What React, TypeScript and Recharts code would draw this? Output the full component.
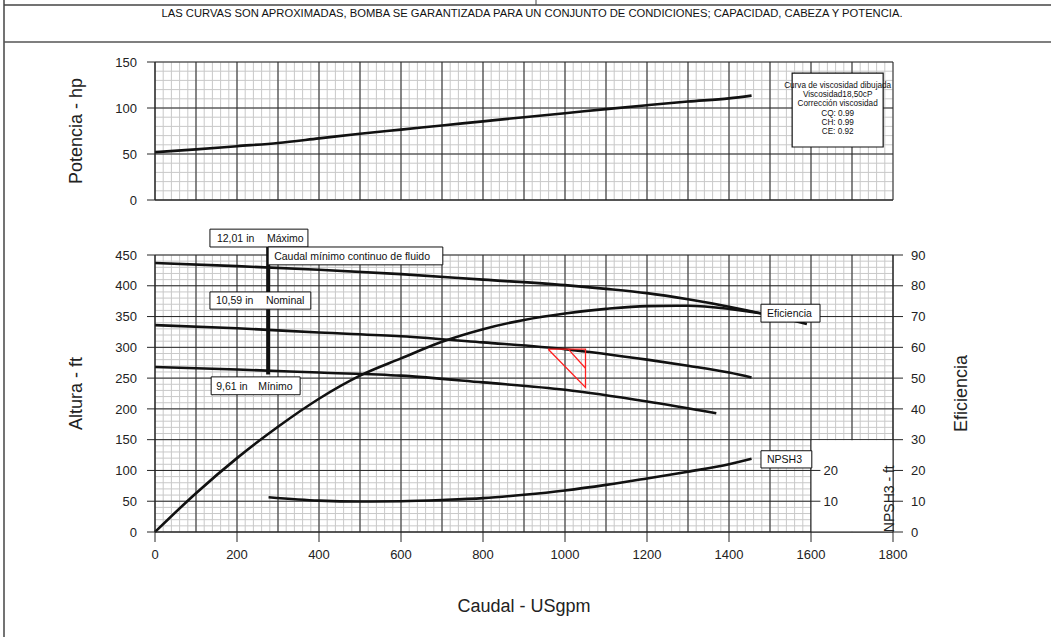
import React from 'react';
import {
  LineChart,
  ComposedChart,
  Line,
  XAxis,
  YAxis,
  CartesianGrid,
  ReferenceArea,
  ReferenceLine,
} from 'recharts';

const FONT = '"Liberation Sans", Arial, Helvetica, sans-serif';

// ---------- texts ----------
const headerText =
  'LAS CURVAS SON APROXIMADAS, BOMBA SE GARANTIZADA PARA UN CONJUNTO DE CONDICIONES; CAPACIDAD, CABEZA Y POTENCIA.';
const viscLines = [
  'Curva de viscosidad dibujada',
  'Viscosidad18,50cP',
  'Corrección viscosidad',
  'CQ: 0.99',
  'CH: 0.99',
  'CE: 0.92',
];

// ---------- ticks ----------
const flowTicks = [0, 200, 400, 600, 800, 1000, 1200, 1400, 1600, 1800];
const powerTicks = [0, 50, 100, 150];
const headTicks = [0, 50, 100, 150, 200, 250, 300, 350, 400, 450];
const effTicks = [0, 10, 20, 30, 40, 50, 60, 70, 80, 90];
const npshTicks = [10, 20];

// grid line values (graph paper)
const majorFlow = Array.from({ length: 19 }, (_, i) => i * 100);
const minorFlow = Array.from({ length: 91 }, (_, i) => i * 20);
const minorPower = Array.from({ length: 16 }, (_, i) => i * 10);
const minorHead = Array.from({ length: 46 }, (_, i) => i * 10);

// ---------- series ----------
// Potencia (hp)
const powerFlow = [0, 100, 200, 300, 400, 500, 600, 700, 800, 900, 1000, 1100, 1200, 1300, 1400, 1455];
const powerHp = [52, 55, 58.5, 62, 67, 72, 76.5, 81, 85.5, 90, 94.3, 98.8, 103, 107, 110.5, 113.5];

// Altura (ft) - 12,01 in Máximo
const maxFlow = [0, 200, 400, 600, 800, 1000, 1100, 1200, 1300, 1400, 1500, 1590];
const maxHead = [437, 432, 426, 419, 410, 401, 395, 388, 378, 366, 352, 338];

// Altura (ft) - 10,59 in Nominal
const nomFlow = [0, 200, 400, 600, 800, 1000, 1200, 1300, 1400, 1455];
const nomHead = [336, 331, 324, 318, 308, 297, 280, 270, 259, 251];

// Altura (ft) - 9,61 in Mínimo
const minFlow = [0, 200, 400, 600, 800, 1000, 1200, 1369];
const minHead = [268, 264, 259, 254, 243, 231, 212, 193];

// Eficiencia (%)
const effFlow = [0, 100, 200, 300, 400, 500, 600, 700, 800, 900, 1000, 1100, 1200, 1300, 1400, 1480];
const effVal = [0, 12.6, 24, 34.2, 43.3, 50.8, 56.4, 61.8, 65.9, 68.9, 71, 72.5, 73.4, 73.5, 72.5, 71];

// NPSH3 (ft)
const npshFlow = [277, 400, 500, 600, 700, 800, 900, 1000, 1100, 1200, 1300, 1400, 1455];
const npshVal = [11.3, 10.2, 9.9, 10, 10.4, 11, 12.1, 13.5, 15.3, 17.4, 19.6, 22, 23.8];

// Triángulos de tolerancia (punto de servicio)
const tolOuterFlow = [959, 1050, 1050, 959];
const tolOuterHead = [297, 297, 235, 297];
const tolInnerFlow = [1008, 1050];
const tolInnerHead = [297, 266];

// Caudal mínimo continuo
const minContFlow = 276;
const minContHeadTop = 463;
const minContHeadBottom = 256;

const pts = (xs: number[], ys: number[]) => xs.map((x, i) => ({ x, y: ys[i] }));

const powerPts = pts(powerFlow, powerHp);
const maxPts = pts(maxFlow, maxHead);
const nomPts = pts(nomFlow, nomHead);
const minPts = pts(minFlow, minHead);
const effPts = pts(effFlow, effVal);
const npshPts = pts(npshFlow, npshVal);
const tolOuterPts = pts(tolOuterFlow, tolOuterHead);
const tolInnerPts = pts(tolInnerFlow, tolInnerHead);

// ---------- grid generators (map values through the axis scales) ----------
const vGen = (values: number[], xMax: number) => (args: any) => {
  const sc = args?.xAxis?.scale;
  if (typeof sc === 'function') return values.map((v) => sc(v));
  const o = args.offset;
  return values.map((v) => o.left + (v / xMax) * o.width);
};
const hGen = (values: number[], yMax: number) => (args: any) => {
  const sc = args?.yAxis?.scale;
  if (typeof sc === 'function') return values.map((v) => sc(v));
  const o = args.offset;
  return values.map((v) => o.top + o.height * (1 - v / yMax));
};

// ---------- label renderers ----------
function makeBoxLabel(parts: string[], offsets: number[], fontSize = 10.5) {
  return (props: any) => {
    const vb = props.viewBox || { x: 0, y: 0, width: 0, height: 0 };
    const cy = vb.y + vb.height / 2;
    return (
      <text y={cy} dy="0.36em" fontSize={fontSize} fontFamily={FONT} fill="#111">
        {parts.map((p, i) => (
          <tspan key={i} x={vb.x + offsets[i]}>
            {p}
          </tspan>
        ))}
      </text>
    );
  };
}

const viscLabel = (props: any) => {
  const vb = props.viewBox || { x: 0, y: 0, width: 0, height: 0 };
  const cx = vb.x + vb.width / 2;
  return (
    <text textAnchor="middle" fontSize={8.2} fontFamily={FONT} fill="#111">
      {viscLines.map((l, i) => (
        <tspan key={i} x={cx} y={vb.y + 15 + i * 9.2}>
          {l}
        </tspan>
      ))}
    </text>
  );
};

const npshTitle = (props: any) => {
  const vb = props.viewBox || { x: 0, y: 0, width: 0, height: 0 };
  const x = vb.x + vb.width - 4;
  const y = vb.y + vb.height - 33;
  return (
    <text
      x={x}
      y={y}
      textAnchor="middle"
      dominantBaseline="central"
      transform={`rotate(-90, ${x}, ${y})`}
      fontSize={14}
      fontFamily={FONT}
      fill="#222"
    >
      NPSH3 - ft
    </text>
  );
};

const tickStyle = { fill: '#222', fontSize: 13, fontFamily: FONT };
const titleStyle = { fontSize: 18, fill: '#222', fontFamily: FONT };
const CURVE = '#111';
const CURVE_W = 2.6;
const MINOR = '#c9c9c9';
const MAJOR = '#262626';

export default function App() {
  return (
    <div
      style={{
        position: 'absolute',
        left: 0,
        top: 0,
        width: 1051,
        height: 637,
        background: '#fff',
        fontFamily: FONT,
        overflow: 'hidden',
      }}
    >
      {/* page frame & header */}
      <svg width={1051} height={637} style={{ position: 'absolute', left: 0, top: 0 }}>
        <line x1={4} y1={0} x2={4} y2={637} stroke="#444" strokeWidth={1.5} />
        <line x1={4} y1={5} x2={1051} y2={5} stroke="#444" strokeWidth={1.5} />
        <line x1={4} y1={42} x2={1051} y2={42} stroke="#555" strokeWidth={1.5} />
        <line x1={536} y1={0} x2={536} y2={5} stroke="#444" strokeWidth={1} />
        <text
          x={532}
          y={17}
          textAnchor="middle"
          fontSize={10}
          fontFamily={FONT}
          fill="#111"
          textLength={741}
          lengthAdjust="spacingAndGlyphs"
        >
          {headerText}
        </text>
      </svg>

      {/* Potencia chart */}
      <div style={{ position: 'absolute', left: 0, top: 0 }}>
        <LineChart width={1051} height={215} margin={{ top: 62, right: 158, bottom: 5, left: 0 }}>
          <CartesianGrid
            stroke={MINOR}
            strokeWidth={1}
            verticalCoordinatesGenerator={vGen(minorFlow, 1800)}
            horizontalCoordinatesGenerator={hGen(minorPower, 150)}
          />
          <CartesianGrid
            stroke={MAJOR}
            strokeWidth={1}
            verticalCoordinatesGenerator={vGen(majorFlow, 1800)}
            horizontalCoordinatesGenerator={hGen(powerTicks, 150)}
          />
          <Line
            data={powerPts}
            dataKey="y"
            type="monotone"
            stroke={CURVE}
            strokeWidth={CURVE_W}
            dot={false}
            activeDot={false}
            isAnimationActive={false}
          />
          <ReferenceArea
            x1={1554}
            x2={1776}
            y1={57.6}
            y2={138}
            fill="#fff"
            fillOpacity={1}
            stroke="#111"
            strokeWidth={1.2}
            ifOverflow="visible"
            zIndex={1500}
            label={viscLabel}
          />
          <XAxis
            type="number"
            dataKey="x"
            domain={[0, 1800]}
            ticks={flowTicks}
            tick={false}
            tickSize={10}
            height={10}
            stroke={MAJOR}
          />
          <YAxis
            type="number"
            domain={[0, 150]}
            ticks={powerTicks}
            width={155}
            tickSize={8}
            tickMargin={10}
            stroke={MAJOR}
            tick={tickStyle}
            label={{ value: 'Potencia - hp', angle: -90, position: 'center', dx: -2, ...titleStyle }}
          />
        </LineChart>
      </div>

      {/* Altura / Eficiencia / NPSH chart */}
      <div style={{ position: 'absolute', left: 0, top: 225 }}>
        <ComposedChart width={1051} height={412} margin={{ top: 30, right: 22, bottom: 15, left: 0 }}>
          <CartesianGrid
            stroke={MINOR}
            strokeWidth={1}
            verticalCoordinatesGenerator={vGen(minorFlow, 1800)}
            horizontalCoordinatesGenerator={hGen(minorHead, 450)}
          />
          <CartesianGrid
            stroke={MAJOR}
            strokeWidth={1}
            verticalCoordinatesGenerator={vGen(majorFlow, 1800)}
            horizontalCoordinatesGenerator={hGen(headTicks, 450)}
          />
          <ReferenceArea
            x1={1600}
            x2={1800}
            y1={0.5}
            y2={149}
            fill="#fff"
            fillOpacity={1}
            stroke="none"
            ifOverflow="visible"
            label={npshTitle}
          />
          <ReferenceLine
            yAxisId="eff"
            segment={[
              { x: 1600, y: 0 },
              { x: 1600, y: 30 },
            ]}
            stroke={MAJOR}
            strokeWidth={1}
          />
          {npshTicks.map((t) => (
            <ReferenceLine
              key={t}
              yAxisId="eff"
              segment={[
                { x: 1600, y: t },
                { x: 1623, y: t },
              ]}
              stroke={MAJOR}
              strokeWidth={1}
              label={{ value: String(t), position: 'right', offset: 3, ...tickStyle }}
            />
          ))}

          <Line data={maxPts} dataKey="y" type="monotone" stroke={CURVE} strokeWidth={CURVE_W} dot={false} activeDot={false} isAnimationActive={false} />
          <Line data={nomPts} dataKey="y" type="monotone" stroke={CURVE} strokeWidth={CURVE_W} dot={false} activeDot={false} isAnimationActive={false} />
          <Line data={minPts} dataKey="y" type="monotone" stroke={CURVE} strokeWidth={CURVE_W} dot={false} activeDot={false} isAnimationActive={false} />
          <Line yAxisId="eff" data={effPts} dataKey="y" type="monotone" stroke={CURVE} strokeWidth={CURVE_W} dot={false} activeDot={false} isAnimationActive={false} />
          <Line yAxisId="eff" data={npshPts} dataKey="y" type="monotone" stroke={CURVE} strokeWidth={CURVE_W} dot={false} activeDot={false} isAnimationActive={false} />
          <Line data={tolOuterPts} dataKey="y" type="linear" stroke="#ff2020" strokeWidth={1.3} dot={false} activeDot={false} isAnimationActive={false} />
          <Line data={tolInnerPts} dataKey="y" type="linear" stroke="#ff2020" strokeWidth={1.3} dot={false} activeDot={false} isAnimationActive={false} />

          <ReferenceLine
            segment={[
              { x: minContFlow, y: minContHeadTop },
              { x: minContFlow, y: minContHeadBottom },
            ]}
            stroke={CURVE}
            strokeWidth={4}
            ifOverflow="visible"
          />

          <ReferenceArea x1={134} x2={373} y1={463} y2={492} fill="#fff" fillOpacity={1} stroke="#111" strokeWidth={1} ifOverflow="visible" zIndex={1500}
            label={makeBoxLabel(['12,01 in', 'Máximo'], [7, 57])} />
          <ReferenceArea x1={minContFlow} x2={702} y1={434} y2={463} fill="#fff" fillOpacity={1} stroke="#111" strokeWidth={1} ifOverflow="visible" zIndex={1500}
            label={makeBoxLabel(['Caudal mínimo continuo de fluido'], [6])} />
          <ReferenceArea x1={134} x2={380} y1={362} y2={390} fill="#fff" fillOpacity={1} stroke="#111" strokeWidth={1} ifOverflow="visible" zIndex={1500}
            label={makeBoxLabel(['10,59 in', 'Nominal'], [6, 56])} />
          <ReferenceArea x1={137} x2={354} y1={223} y2={252} fill="#fff" fillOpacity={1} stroke="#111" strokeWidth={1} ifOverflow="visible" zIndex={1500}
            label={makeBoxLabel(['9,61 in', 'Mínimo'], [5, 47])} />
          <ReferenceArea x1={1478} x2={1622} y1={341} y2={370} fill="#fff" fillOpacity={1} stroke="#111" strokeWidth={1} ifOverflow="visible" zIndex={1500}
            label={makeBoxLabel(['Eficiencia'], [6])} />
          <ReferenceArea x1={1478} x2={1602} y1={104} y2={132} fill="#fff" fillOpacity={1} stroke="#111" strokeWidth={1} ifOverflow="visible" zIndex={1500}
            label={makeBoxLabel(['NPSH3'], [6])} />

          <XAxis
            type="number"
            dataKey="x"
            domain={[0, 1800]}
            ticks={flowTicks}
            tickSize={10}
            tickMargin={8}
            height={90}
            stroke={MAJOR}
            tick={tickStyle}
            label={{ value: 'Caudal - USgpm', position: 'insideBottom', offset: 10, ...titleStyle }}
          />
          <YAxis
            type="number"
            domain={[0, 450]}
            ticks={headTicks}
            width={155}
            tickSize={8}
            tickMargin={10}
            stroke={MAJOR}
            tick={tickStyle}
            label={{ value: 'Altura - ft', angle: -90, position: 'center', dx: -2, ...titleStyle }}
          />
          <YAxis
            yAxisId="eff"
            orientation="right"
            type="number"
            domain={[0, 90]}
            ticks={effTicks}
            width={136}
            tickSize={10}
            tickMargin={8}
            stroke={MAJOR}
            tick={tickStyle}
            label={{ value: 'Eficiencia', angle: -90, position: 'center', ...titleStyle }}
          />
        </ComposedChart>
      </div>
    </div>
  );
}
